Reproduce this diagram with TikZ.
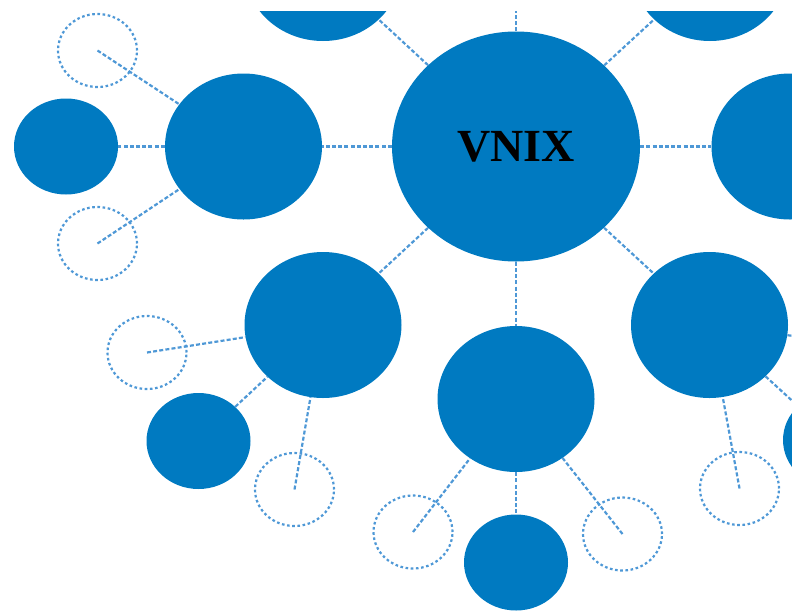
\documentclass[tikz,border=0pt]{standalone}
\usepackage{fontspec}
\setmainfont{Liberation Serif}
\usetikzlibrary{shapes.geometric}
\definecolor{nodeblue}{RGB}{0,122,193}
\definecolor{linkblue}{RGB}{78,152,214}
\tikzset{
  big/.style={ellipse,fill=nodeblue,inner sep=0pt,minimum width=157pt,minimum height=146pt},
  hub/.style={ellipse,fill=nodeblue,inner sep=0pt,minimum width=248pt,minimum height=230pt,
    font=\fontsize{46}{46}\selectfont\bfseries},
  small/.style={ellipse,fill=nodeblue,inner sep=0pt,minimum width=104pt,minimum height=96pt},
  ghost/.style={ellipse,draw=linkblue,line width=2.2pt,dash pattern=on 2.6pt off 2.6pt,
    inner sep=0pt,minimum width=79pt,minimum height=73pt},
  link/.style={draw=linkblue,line width=2.2pt,dash pattern=on 4pt off 2.2pt}
}
\begin{document}
\begin{tikzpicture}[x=1pt,y=-1pt]
    \useasboundingbox (0,0) rectangle (792,611);
    \clip (0,11) rectangle (792,611);
    \node[hub] (vnix) at (516,146.5) {VNIX};
    \node[big] (topl) at (323,-32) {};
    \node[big] (topr) at (710,-32) {};
    \node[big] (left) at (243.5,146.5) {};
    \node[big] (right) at (790,146.5) {};
    \node[big] (lowl) at (323,325) {};
    \node[big] (lowr) at (709.5,325) {};
    \node[big] (down) at (516,399) {};
    \node[small] (farleft) at (66,146.5) {};
    \node[small] (lowlsub) at (198.5,441) {};
    \node[small] (downsub) at (516,562.5) {};
    \node[small] (lowrsub) at (835,440) {};
    \node[ghost] (ga) at (97.5,50.5) {};
    \node[ghost] (gb) at (97.5,243.5) {};
    \node[ghost] (gc) at (147,352.5) {};
    \node[ghost] (gd) at (294.5,489.5) {};
    \node[ghost] (ge) at (413,532) {};
    \node[ghost] (gf) at (622.5,534) {};
    \node[ghost] (gg) at (739.5,488.5) {};
    \coordinate (topend) at (516,0);
    \coordinate (rightend) at (870,346);
    \draw[link] (vnix) -- (topend);
    \draw[link] (vnix) -- (topl);
    \draw[link] (vnix) -- (topr);
    \draw[link] (vnix) -- (left);
    \draw[link] (vnix) -- (right);
    \draw[link] (vnix) -- (lowl);
    \draw[link] (vnix) -- (lowr);
    \draw[link] (vnix) -- (down);
    \draw[link] (left) -- (farleft);
    \draw[link] (ga.center) -- (left);
    \draw[link] (gb.center) -- (left);
    \draw[link] (gc.center) -- (lowl);
    \draw[link] (gd.center) -- (lowl);
    \draw[link] (lowlsub) -- (lowl);
    \draw[link] (down) -- (downsub);
    \draw[link] (ge.center) -- (down);
    \draw[link] (gf.center) -- (down);
    \draw[link] (gg.center) -- (lowr);
    \draw[link] (lowr) -- (lowrsub);
    \draw[link] (lowr) -- (rightend);
\end{tikzpicture}
\end{document}
